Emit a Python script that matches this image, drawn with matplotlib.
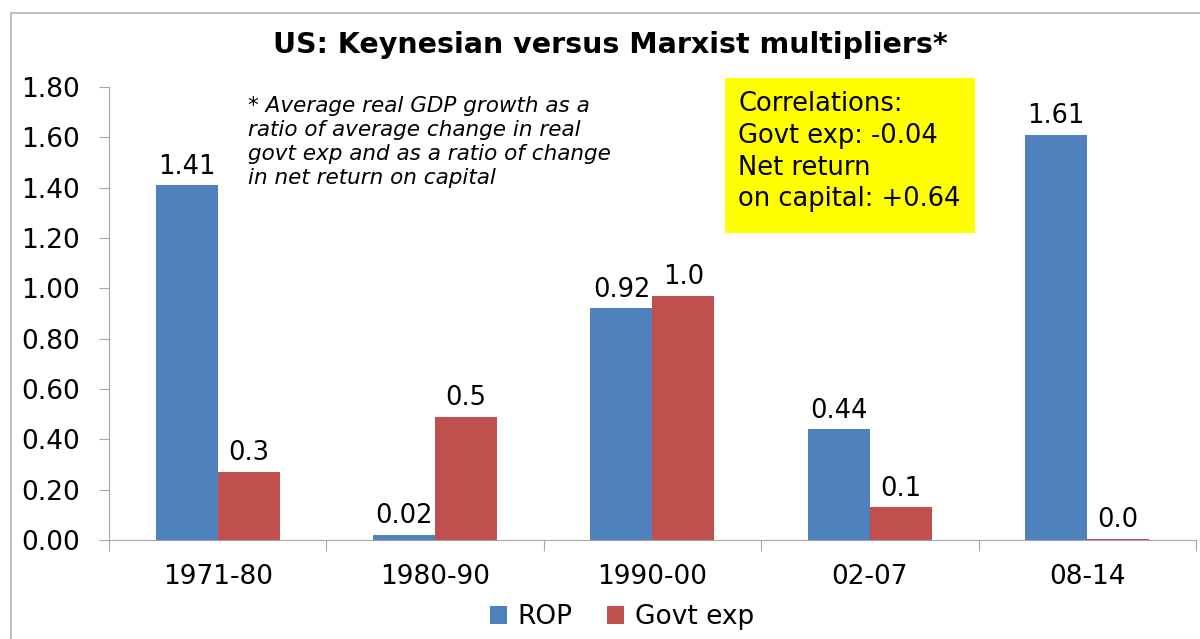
import matplotlib
matplotlib.use('Agg')
import matplotlib.pyplot as plt
import numpy as np
from matplotlib.patches import Rectangle

plt.rcParams['font.family'] = ['DejaVu Sans']

# data
periods = ['1971-80', '1980-90', '1990-00', '02-07', '08-14']
rop = [1.41, 0.02, 0.92, 0.44, 1.61]
govt_exp = [0.27, 0.49, 0.97, 0.13, 0.005]
rop_labels = ['1.41', '0.02', '0.92', '0.44', '1.61']
govt_labels = ['0.3', '0.5', '1.0', '0.1', '0.0']
y_ticks = [0.0, 0.2, 0.4, 0.6, 0.8, 1.0, 1.2, 1.4, 1.6, 1.8]

BLUE = '#4F81BD'
RED = '#C0504D'
GREY = '#A6A6A6'

fig = plt.figure(figsize=(12, 6.39), dpi=100)
ax = fig.add_axes([0.0908, 0.155, 0.9058, 0.709])

x = np.arange(len(periods))
w = 0.285
b1 = ax.bar(x - w / 2, rop, w, color=BLUE, label='ROP')
b2 = ax.bar(x + w / 2, govt_exp, w, color=RED, label='Govt exp')

for bars, labels in ((b1, rop_labels), (b2, govt_labels)):
    for rect, lab in zip(bars, labels):
        ax.annotate(lab, (rect.get_x() + rect.get_width() / 2, rect.get_height()),
                    xytext=(0, 4), textcoords='offset points', ha='center', va='bottom',
                    fontsize=18.5)

ax.set_xlim(-0.5, len(periods) - 0.5)
ax.set_ylim(0, 1.8)
ax.set_yticks(y_ticks)
ax.set_yticklabels([f'{v:.2f}' for v in y_ticks], fontsize=19)

# category labels centred, tick marks on the boundaries
ax.set_xticks(np.arange(len(periods) + 1) - 0.5)
ax.set_xticklabels([])
ax.set_xticks(x, minor=True)
ax.set_xticklabels(periods, minor=True, fontsize=19)
ax.tick_params(axis='x', which='minor', length=0, pad=17)
ax.tick_params(axis='x', which='major', length=8, color=GREY)
ax.tick_params(axis='y', length=7, color=GREY, pad=14)

for s in ['top', 'right']:
    ax.spines[s].set_visible(False)
for s in ['left', 'bottom']:
    ax.spines[s].set_color(GREY)

fig.text(0.509, 0.93, 'US: Keynesian versus Marxist multipliers*', ha='center', va='center',
         fontsize=20.5, fontweight='bold')

ax.text(0.128, 0.98,
        '* Average real GDP growth as a\nratio of average change in real\n'
        'govt exp and as a ratio of change\nin net return on capital',
        transform=ax.transAxes, ha='left', va='top', fontsize=15.5, style='italic',
        linespacing=1.25)

# yellow correlations box
ax.add_patch(Rectangle((0.567, 0.678), 0.23, 0.342, transform=ax.transAxes,
                       facecolor='#FFFF00', edgecolor='none', clip_on=False, zorder=3))
ax.text(0.579, 0.99,
        'Correlations:\nGovt exp: -0.04\nNet return\non capital: +0.64',
        transform=ax.transAxes, ha='left', va='top', fontsize=18.5, linespacing=1.28,
        zorder=4)

ax.legend(loc='center', bbox_to_anchor=(0.472, -0.17), ncol=2, frameon=False,
          fontsize=19, handlelength=0.65, handleheight=0.65, columnspacing=1.3,
          handletextpad=0.4)

fig.patches.append(Rectangle((0.009, -0.1), 1.2, 0.1 + 0.979, transform=fig.transFigure,
                             fill=False, edgecolor='#BFBFBF', linewidth=1.5))

fig.savefig('out.png', dpi=100)
